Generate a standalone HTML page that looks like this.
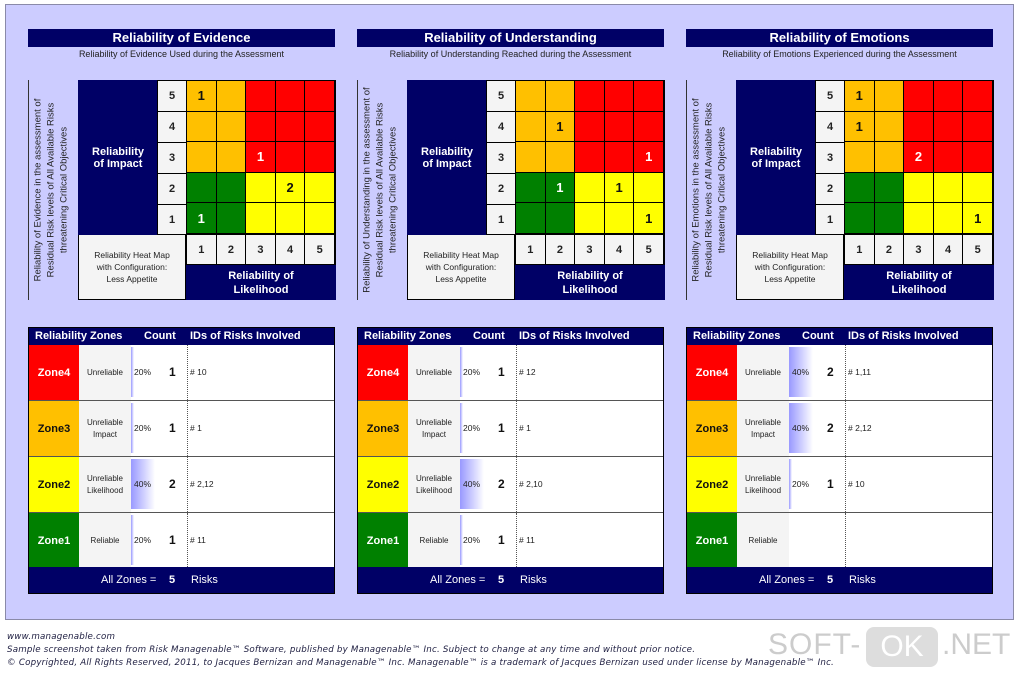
<!DOCTYPE html>
<html><head><meta charset="utf-8"><style>
*{margin:0;padding:0;box-sizing:border-box}
body{width:1020px;height:673px;background:#fff;position:relative;overflow:hidden;font-family:"Liberation Sans",Arial,sans-serif}
.bg{position:absolute;left:5px;top:4px;width:1009px;height:616px;background:#ccccff;border:1px solid #8a8aa8}
.p{position:absolute;top:29px;width:307px;height:570px}
.a{position:absolute}
.nv{background:#000066;color:#fff}
.title{left:0;top:0;width:307px;height:18px;font-weight:bold;font-size:13px;text-align:center;line-height:18px}
.sub{left:0;top:20px;width:307px;font-size:9px;text-align:center;color:#222}
.rot{left:0;top:51px;width:46px;height:220px;border-left:1px solid #333}
.rot div{position:absolute;left:22px;top:110px;width:220px;transform:translate(-50%,-50%) rotate(-90deg);font-size:9.5px;text-align:center;line-height:13px;color:#222}
.imp{left:50px;top:51px;width:80px;height:155px;font-weight:bold;font-size:11px;display:flex;align-items:center;justify-content:center;text-align:center}
.ncol{left:129px;top:51px;width:30px;height:155px;background:#f4f4f4;border:1px solid #000}
.ncol div,.nrow div{display:flex;align-items:center;justify-content:center;font-size:11px;font-weight:bold;color:#222;border-bottom:1px solid #000}
.ncol div{height:31px}
.grid{left:158px;top:51px;width:150px;height:155px;display:grid;grid-template-columns:repeat(5,1fr);grid-template-rows:repeat(5,1fr);border:1px solid #000}
.grid div{border-right:1px solid #000;border-bottom:1px solid #000;display:flex;align-items:center;justify-content:center;font-weight:bold;font-size:13px}
.R{background:#f00;color:#fff}.O{background:#ffc000;color:#111}.G{background:#008000;color:#fff}.Y{background:#ff0;color:#111}
.nrow{left:158px;top:206px;width:150px;height:30px;display:flex;background:#f4f4f4;border:1px solid #000;border-top:none}
.nrow div{flex:1;border-right:1px solid #000;border-bottom:none}
.cfg{left:50px;top:206px;width:108px;height:65px;background:#f4f4f4;border:1px solid #000;border-top:none;font-size:8.5px;text-align:center;line-height:12px;padding-top:14px;color:#222}
.lik{left:158px;top:236px;width:150px;height:35px;font-weight:bold;font-size:11px;text-align:center;line-height:14px;padding-top:4px}
.tb{left:0;top:298px;width:307px;height:267px;background:#fff;border:1px solid #000}
.th{position:absolute;left:0;top:0;width:305px;height:17px;font-weight:bold;font-size:11px;line-height:17px}
.row{position:absolute;left:0;width:305px;height:56px;border-bottom:1px solid #555}
.zc{position:absolute;left:0;top:0;width:50px;height:100%;display:flex;align-items:center;justify-content:center;font-weight:bold;font-size:11px}
.zl{position:absolute;left:50px;top:0;width:52px;height:100%;background:#f4f4f4;display:flex;align-items:center;justify-content:center;text-align:center;font-size:8px;line-height:12px;color:#222}
.bar{position:absolute;left:102px;top:2px;height:50px;background:linear-gradient(90deg,#9999ff,#fff)}
.pc{position:absolute;left:105px;top:0;line-height:55px;font-size:8.5px;color:#222}
.ct{position:absolute;left:140px;top:0;line-height:55px;font-size:12px;font-weight:bold;color:#111}
.id{position:absolute;left:158px;top:0;width:147px;height:100%;border-left:1px dotted #555;line-height:55px;font-size:8.5px;padding-left:2px;color:#222}
.ft{position:absolute;left:0;top:239px;width:305px;height:26px;font-size:11px;line-height:26px}
.f{position:absolute;left:7px;font-size:8.7px;font-style:italic;color:#224;font-family:"DejaVu Sans",sans-serif;letter-spacing:0.2px}
</style></head><body>
<div class="bg"></div>

<!-- Panel 1 -->
<div class="p" style="left:28px">
<div class="a nv title">Reliability of Evidence</div>
<div class="a sub">Reliability of Evidence Used during the Assessment</div>
<div class="a rot"><div>Reliability of Evidence in the assessment of Residual Risk levels of All Available Risks threatening Critical Objectives</div></div>
<div class="a nv imp">Reliability<br>of Impact</div>
<div class="a ncol"><div>5</div><div>4</div><div>3</div><div>2</div><div>1</div></div>
<div class="a grid">
<div class="O">1</div><div class="O"></div><div class="R"></div><div class="R"></div><div class="R"></div>
<div class="O"></div><div class="O"></div><div class="R"></div><div class="R"></div><div class="R"></div>
<div class="O"></div><div class="O"></div><div class="R">1</div><div class="R"></div><div class="R"></div>
<div class="G"></div><div class="G"></div><div class="Y"></div><div class="Y">2</div><div class="Y"></div>
<div class="G">1</div><div class="G"></div><div class="Y"></div><div class="Y"></div><div class="Y"></div>
</div>
<div class="a nrow"><div>1</div><div>2</div><div>3</div><div>4</div><div>5</div></div>
<div class="a cfg">Reliability Heat Map<br>with Configuration:<br>Less Appetite</div>
<div class="a nv lik">Reliability of<br>Likelihood</div>
<div class="a tb">
<div class="th nv"><span class="a" style="left:6px">Reliability Zones</span><span class="a" style="left:115px">Count</span><span class="a" style="left:161px">IDs of Risks Involved</span></div>
<div class="row" style="top:17px"><div class="zc R">Zone4</div><div class="zl">Unreliable</div><div class="bar" style="width:3px"></div><div class="pc">20%</div><div class="ct">1</div><div class="id"># 10</div></div>
<div class="row" style="top:73px"><div class="zc O">Zone3</div><div class="zl">Unreliable<br>Impact</div><div class="bar" style="width:3px"></div><div class="pc">20%</div><div class="ct">1</div><div class="id"># 1</div></div>
<div class="row" style="top:129px"><div class="zc Y">Zone2</div><div class="zl">Unreliable<br>Likelihood</div><div class="bar" style="width:24px"></div><div class="pc">40%</div><div class="ct">2</div><div class="id"># 2,12</div></div>
<div class="row" style="top:185px;border:none"><div class="zc G">Zone1</div><div class="zl">Reliable</div><div class="bar" style="width:3px"></div><div class="pc">20%</div><div class="ct">1</div><div class="id"># 11</div></div>
<div class="ft nv"><span class="a" style="left:72px">All Zones =</span><span class="a" style="left:140px;font-weight:bold">5</span><span class="a" style="left:162px">Risks</span></div>
</div>
</div>

<!-- Panel 2 -->
<div class="p" style="left:357px">
<div class="a nv title">Reliability of Understanding</div>
<div class="a sub">Reliability of Understanding Reached during the Assessment</div>
<div class="a rot"><div>Reliability of Understanding in the assessment of Residual Risk levels of All Available Risks threatening Critical Objectives</div></div>
<div class="a nv imp">Reliability<br>of Impact</div>
<div class="a ncol"><div>5</div><div>4</div><div>3</div><div>2</div><div>1</div></div>
<div class="a grid">
<div class="O"></div><div class="O"></div><div class="R"></div><div class="R"></div><div class="R"></div>
<div class="O"></div><div class="O">1</div><div class="R"></div><div class="R"></div><div class="R"></div>
<div class="O"></div><div class="O"></div><div class="R"></div><div class="R"></div><div class="R">1</div>
<div class="G"></div><div class="G">1</div><div class="Y"></div><div class="Y">1</div><div class="Y"></div>
<div class="G"></div><div class="G"></div><div class="Y"></div><div class="Y"></div><div class="Y">1</div>
</div>
<div class="a nrow"><div>1</div><div>2</div><div>3</div><div>4</div><div>5</div></div>
<div class="a cfg">Reliability Heat Map<br>with Configuration:<br>Less Appetite</div>
<div class="a nv lik">Reliability of<br>Likelihood</div>
<div class="a tb">
<div class="th nv"><span class="a" style="left:6px">Reliability Zones</span><span class="a" style="left:115px">Count</span><span class="a" style="left:161px">IDs of Risks Involved</span></div>
<div class="row" style="top:17px"><div class="zc R">Zone4</div><div class="zl">Unreliable</div><div class="bar" style="width:3px"></div><div class="pc">20%</div><div class="ct">1</div><div class="id"># 12</div></div>
<div class="row" style="top:73px"><div class="zc O">Zone3</div><div class="zl">Unreliable<br>Impact</div><div class="bar" style="width:3px"></div><div class="pc">20%</div><div class="ct">1</div><div class="id"># 1</div></div>
<div class="row" style="top:129px"><div class="zc Y">Zone2</div><div class="zl">Unreliable<br>Likelihood</div><div class="bar" style="width:24px"></div><div class="pc">40%</div><div class="ct">2</div><div class="id"># 2,10</div></div>
<div class="row" style="top:185px;border:none"><div class="zc G">Zone1</div><div class="zl">Reliable</div><div class="bar" style="width:3px"></div><div class="pc">20%</div><div class="ct">1</div><div class="id"># 11</div></div>
<div class="ft nv"><span class="a" style="left:72px">All Zones =</span><span class="a" style="left:140px;font-weight:bold">5</span><span class="a" style="left:162px">Risks</span></div>
</div>
</div>

<!-- Panel 3 -->
<div class="p" style="left:686px">
<div class="a nv title">Reliability of Emotions</div>
<div class="a sub">Reliability of Emotions Experienced during the Assessment</div>
<div class="a rot"><div>Reliability of Emotions in the assessment of Residual Risk levels of All Available Risks threatening Critical Objectives</div></div>
<div class="a nv imp">Reliability<br>of Impact</div>
<div class="a ncol"><div>5</div><div>4</div><div>3</div><div>2</div><div>1</div></div>
<div class="a grid">
<div class="O">1</div><div class="O"></div><div class="R"></div><div class="R"></div><div class="R"></div>
<div class="O">1</div><div class="O"></div><div class="R"></div><div class="R"></div><div class="R"></div>
<div class="O"></div><div class="O"></div><div class="R">2</div><div class="R"></div><div class="R"></div>
<div class="G"></div><div class="G"></div><div class="Y"></div><div class="Y"></div><div class="Y"></div>
<div class="G"></div><div class="G"></div><div class="Y"></div><div class="Y"></div><div class="Y">1</div>
</div>
<div class="a nrow"><div>1</div><div>2</div><div>3</div><div>4</div><div>5</div></div>
<div class="a cfg">Reliability Heat Map<br>with Configuration:<br>Less Appetite</div>
<div class="a nv lik">Reliability of<br>Likelihood</div>
<div class="a tb">
<div class="th nv"><span class="a" style="left:6px">Reliability Zones</span><span class="a" style="left:115px">Count</span><span class="a" style="left:161px">IDs of Risks Involved</span></div>
<div class="row" style="top:17px"><div class="zc R">Zone4</div><div class="zl">Unreliable</div><div class="bar" style="width:24px"></div><div class="pc">40%</div><div class="ct">2</div><div class="id"># 1,11</div></div>
<div class="row" style="top:73px"><div class="zc O">Zone3</div><div class="zl">Unreliable<br>Impact</div><div class="bar" style="width:24px"></div><div class="pc">40%</div><div class="ct">2</div><div class="id"># 2,12</div></div>
<div class="row" style="top:129px"><div class="zc Y">Zone2</div><div class="zl">Unreliable<br>Likelihood</div><div class="bar" style="width:3px"></div><div class="pc">20%</div><div class="ct">1</div><div class="id"># 10</div></div>
<div class="row" style="top:185px;border:none"><div class="zc G">Zone1</div><div class="zl">Reliable</div><div class="id"></div></div>
<div class="ft nv"><span class="a" style="left:72px">All Zones =</span><span class="a" style="left:140px;font-weight:bold">5</span><span class="a" style="left:162px">Risks</span></div>
</div>
</div>

<div class="f" style="top:632px">www.managenable.com</div>
<div class="f" style="top:645px">Sample screenshot taken from Risk Managenable™ Software, published by Managenable™ Inc.  Subject to change at any time and without prior notice.</div>
<div class="f" style="top:658px">© Copyrighted, All Rights Reserved,  2011, to Jacques Bernizan and Managenable™ Inc.  Managenable™ is a trademark of Jacques Bernizan used under license by Managenable™ Inc.</div>
<div class="a" style="left:768px;top:628px;font-size:30px;color:#ccc;letter-spacing:1px">SOFT-</div>
<div class="a" style="left:866px;top:627px;width:72px;height:40px;background:#ddd;border-radius:8px;color:#fff;font-size:30px;text-align:center;line-height:40px">OK</div>
<div class="a" style="left:942px;top:628px;font-size:30px;color:#ccc">.NET</div>
</body></html>
